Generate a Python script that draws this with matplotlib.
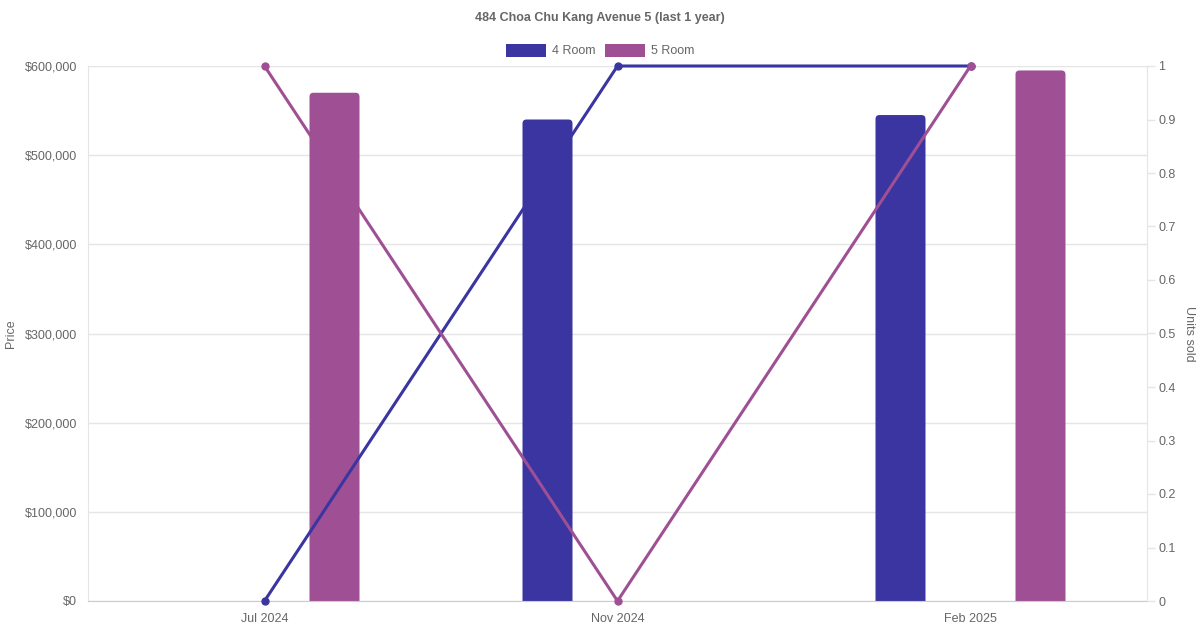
import matplotlib
matplotlib.use("Agg")
import matplotlib.pyplot as plt
from matplotlib.patches import FancyBboxPatch, Rectangle
from matplotlib.ticker import FuncFormatter, MultipleLocator

categories = ["Jul 2024", "Nov 2024", "Feb 2025"]
price_4room = [None, 540000, 545000]
price_5room = [570000, None, 595000]
units_4room = [0, 1, 1]
units_5room = [1, 0, 1]

C4 = "#3a35a0"
C5 = "#9f5094"
GRID = "#e5e5e5"
TXT = "#666666"

plt.rcParams['font.family'] = ['Liberation Sans', 'DejaVu Sans']

fig = plt.figure(figsize=(12, 6.3), dpi=100)
W, H = 1200, 630
L, R, T, B = 88, 1147, 66, 601
ax = fig.add_axes([L / W, 1 - B / H, (R - L) / W, (B - T) / H])
ax2 = ax.twinx()

x = list(range(len(categories)))
ax.set_xlim(-0.5, len(categories) - 0.5)
ax.set_ylim(0, 600000)
ax2.set_ylim(0, 1)

px_x = (R - L) / 3.0  # px per x unit
px_y = (B - T) / 600000.0
off = 70 / px_x
bw = 50 / px_x
r = 4 / px_x
aspect = (1 / px_y) / (1 / px_x)

def draw_bars(vals, offset, color):
    for xi, v in zip(x, vals):
        if v is None:
            continue
        left = xi + offset - bw / 2
        p = FancyBboxPatch((left + r, -r * aspect * 2), bw - 2 * r, v + r * aspect * 2 - r * aspect,
                           boxstyle=f"round,pad={r},rounding_size={r}",
                           mutation_aspect=aspect, facecolor=color, edgecolor="none",
                           zorder=2)
        ax.add_patch(p)

draw_bars(price_4room, -off, C4)
draw_bars(price_5room, off, C5)

ax.set_yticks(range(0, 600001, 100000))
ax.yaxis.set_major_formatter(FuncFormatter(lambda v, p: f"${int(v):,}"))
ax.set_xticks(x)
ax.set_xticklabels(categories)
ax.grid(axis='y', color=GRID, linewidth=1)
ax.grid(axis='x', visible=False)
ax.set_axisbelow(True)
ax.tick_params(axis='y', length=0, pad=8, labelsize=9, labelcolor=TXT)
ax.tick_params(axis='x', length=0, pad=9, labelsize=9, labelcolor=TXT)
for s in ["top", "right"]:
    ax.spines[s].set_visible(False)
ax.spines["left"].set_color(GRID)
ax.spines["bottom"].set_color("#cccccc")

ax2.plot(x, units_4room, color=C4, linewidth=2.2, marker='o', markersize=5, zorder=3, clip_on=False)
ax2.plot(x, units_5room, color=C5, linewidth=2.2, marker='o', markersize=5, zorder=3, clip_on=False)
ax2.yaxis.set_major_locator(MultipleLocator(0.1))
ax2.yaxis.set_major_formatter(FuncFormatter(lambda v, p: f"{round(v, 1):g}"))
ax2.tick_params(axis='y', length=6, width=1, color=GRID, pad=2, labelsize=9, labelcolor=TXT)
for s in ["top", "left", "bottom"]:
    ax2.spines[s].set_visible(False)
ax2.spines["right"].set_color(GRID)

fig.text(11 / W, 1 - 334 / H, "Price", rotation=90, ha="center", va="center", fontsize=9, color=TXT)
fig.text(1189 / W, 1 - 334 / H, "Units sold", rotation=-90, ha="center", va="center", fontsize=9, color=TXT)

fig.text(600 / W, 1 - 18.5 / H, "484 Choa Chu Kang Avenue 5 (last 1 year)", ha="center", va="center",
         fontsize=9, fontweight="bold", color=TXT)

# legend
for bx, label, col in [(506, "4 Room", C4), (605, "5 Room", C5)]:
    fig.patches.append(Rectangle((bx / W, 1 - 56.5 / H), 40 / W, 12 / H, transform=fig.transFigure,
                                 facecolor=col, edgecolor="none"))
    fig.text((bx + 46) / W, 1 - 51.5 / H, label, ha="left", va="center", fontsize=9, color=TXT)

fig.savefig("out.png", dpi=100, facecolor="white")
